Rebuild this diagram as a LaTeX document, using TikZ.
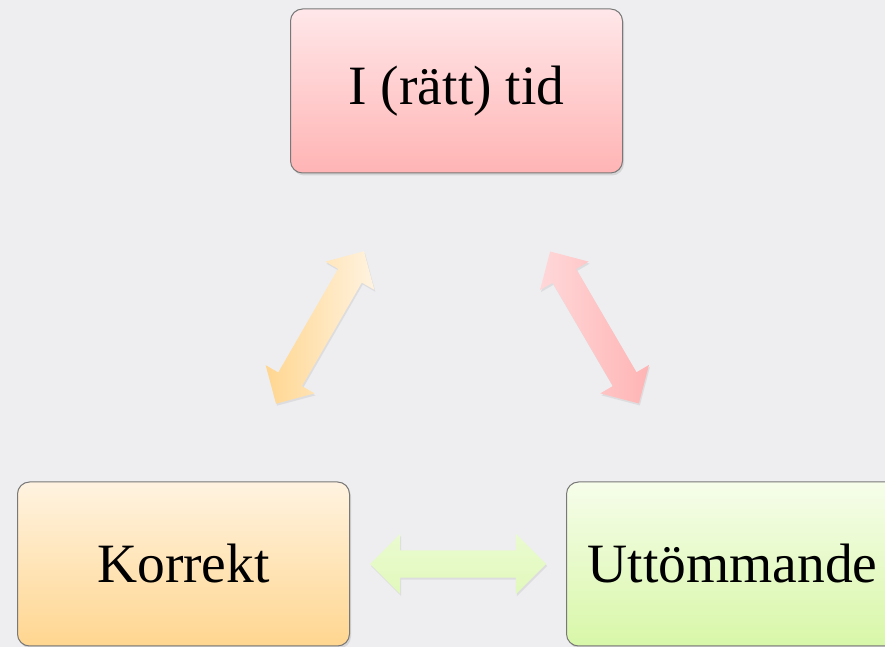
\documentclass[tikz,border=0pt]{standalone}
\usepackage{fontspec}
\setmainfont{Liberation Serif}
\usetikzlibrary{shapes,shadows,positioning}

\definecolor{bgpaper}{RGB}{238,238,240}
\definecolor{boxline}{RGB}{120,120,120}
\definecolor{redtop}{RGB}{255,231,233}
\definecolor{redbot}{RGB}{255,180,180}
\definecolor{orangetop}{RGB}{255,243,224}
\definecolor{orangebot}{RGB}{255,214,144}
\definecolor{greentop}{RGB}{246,253,234}
\definecolor{greenbot}{RGB}{216,247,168}

\begin{document}
\begin{tikzpicture}
		[x=1pt,y=1pt,
		box/.style={draw=boxline,line width=1pt,rounded corners=12pt,minimum width=332pt,minimum height=164pt,font=\fontsize{55.5}{60}\selectfont,drop shadow={opacity=.22,shadow xshift=1.5pt,shadow yshift=-2.5pt}},
		dblarrow/.style={double arrow,inner xsep=0pt,inner ysep=13.5pt,minimum height=176pt,double arrow head extend=14.5pt,drop shadow={opacity=.15,shadow xshift=1pt,shadow yshift=-2pt}}]

			\fill[bgpaper] (0,0) rectangle (885,647);
			\useasboundingbox (0,0) rectangle (885,647);

			\node[box,top color=redtop,bottom color=redbot](tid) at (456.5,556) {I (rätt) tid};
			\node[box,top color=orangetop,bottom color=orangebot](korrekt) at (183.5,83) {Korrekt};
			\node[box,right=216pt of korrekt,top color=greentop,bottom color=greenbot](uttom) {Uttömmande};

			\path
			(korrekt.center) -- node[dblarrow,sloped,left color=orangebot,right color=orangetop]{} (tid.center)
			(tid.center) -- node[dblarrow,sloped,left color=redtop!70!redbot,right color=redbot]{} (uttom.center)
			(korrekt.center) -- node[dblarrow,double arrow head extend=16.5pt,top color=greentop!60!greenbot,bottom color=greentop!30!greenbot]{} (uttom.center);

	\end{tikzpicture}
\end{document}
